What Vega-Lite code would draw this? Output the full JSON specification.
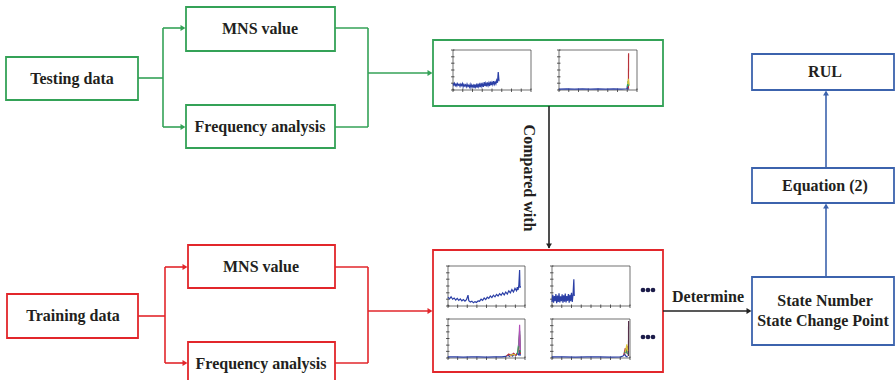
{
  "$schema": "https://vega.github.io/schema/vega-lite/v6.json",
  "width": 896,
  "height": 380,
  "autosize": {"type": "fit", "contains": "padding"},
  "padding": 0,
  "background": "white",
  "config": {"view": {"stroke": null}},
  "datasets": {
    "boxes": [
      {"n": "test", "g": "testing", "x": 6, "x2": 138, "y": 57, "y2": 100},
      {"n": "mnsG", "g": "testing", "x": 186, "x2": 335, "y": 7, "y2": 51},
      {"n": "freqG", "g": "testing", "x": 186, "x2": 335, "y": 105, "y2": 148},
      {"n": "resG", "g": "testing", "x": 433, "x2": 663, "y": 40, "y2": 106},
      {"n": "train", "g": "training", "x": 7, "x2": 138, "y": 294, "y2": 338},
      {"n": "mnsR", "g": "training", "x": 188, "x2": 335, "y": 245, "y2": 288},
      {"n": "freqR", "g": "training", "x": 188, "x2": 335, "y": 342, "y2": 392},
      {"n": "resR", "g": "training", "x": 433, "x2": 663, "y": 250, "y2": 372},
      {"n": "rul", "g": "output", "x": 752, "x2": 894, "y": 54, "y2": 90},
      {"n": "eq", "g": "output", "x": 752, "x2": 894, "y": 168, "y2": 203},
      {"n": "state", "g": "output", "x": 752, "x2": 894, "y": 277, "y2": 345}
    ],
    "links": [
      {"g": "testing", "x": 138, "x2": 163, "y": 78, "y2": 78},
      {"g": "testing", "x": 163, "x2": 163, "y": 28, "y2": 127},
      {"g": "testing", "x": 163, "x2": 184, "y": 28, "y2": 28},
      {"g": "testing", "x": 163, "x2": 184, "y": 127, "y2": 127},
      {"g": "testing", "x": 335, "x2": 368, "y": 28, "y2": 28},
      {"g": "testing", "x": 335, "x2": 368, "y": 127, "y2": 127},
      {"g": "testing", "x": 368, "x2": 368, "y": 28, "y2": 127},
      {"g": "testing", "x": 368, "x2": 431, "y": 73, "y2": 73},
      {"g": "training", "x": 138, "x2": 165, "y": 316, "y2": 316},
      {"g": "training", "x": 165, "x2": 165, "y": 267, "y2": 363},
      {"g": "training", "x": 165, "x2": 186, "y": 267, "y2": 267},
      {"g": "training", "x": 165, "x2": 186, "y": 363, "y2": 363},
      {"g": "training", "x": 335, "x2": 368, "y": 267, "y2": 267},
      {"g": "training", "x": 335, "x2": 368, "y": 363, "y2": 363},
      {"g": "training", "x": 368, "x2": 368, "y": 267, "y2": 363},
      {"g": "training", "x": 368, "x2": 431, "y": 311, "y2": 311},
      {"g": "link", "x": 549, "x2": 549, "y": 106, "y2": 248},
      {"g": "link", "x": 663, "x2": 750, "y": 311, "y2": 311},
      {"g": "output", "x": 826, "x2": 826, "y": 277, "y2": 205},
      {"g": "output", "x": 826, "x2": 826, "y": 168, "y2": 92}
    ],
    "heads": [
      {"g": "testing", "dir": "right", "x": 183, "y": 28},
      {"g": "testing", "dir": "right", "x": 183, "y": 127},
      {"g": "testing", "dir": "right", "x": 430, "y": 73},
      {"g": "training", "dir": "right", "x": 185, "y": 267},
      {"g": "training", "dir": "right", "x": 185, "y": 363},
      {"g": "training", "dir": "right", "x": 430, "y": 311},
      {"g": "link", "dir": "down", "x": 549, "y": 246},
      {"g": "link", "dir": "right", "x": 749, "y": 311},
      {"g": "output", "dir": "up", "x": 826, "y": 206},
      {"g": "output", "dir": "up", "x": 826, "y": 93}
    ],
    "labels": [
      {"t": "Testing data", "x": 72, "y": 79},
      {"t": "MNS value", "x": 260, "y": 29},
      {"t": "Frequency analysis", "x": 260, "y": 127},
      {"t": "Training data", "x": 73, "y": 316},
      {"t": "MNS value", "x": 261, "y": 267},
      {"t": "Frequency analysis", "x": 261, "y": 364},
      {"t": "RUL", "x": 825, "y": 72},
      {"t": "Equation (2)", "x": 825, "y": 186},
      {"t": "State Number", "x": 825, "y": 301},
      {"t": "State Change Point", "x": 823, "y": 321},
      {"t": "Determine", "x": 708, "y": 297}
    ],
    "panels": [
      {"p": "g1", "x0": 453, "x1": 531, "y0": 50, "y1": 90},
      {"p": "g2", "x0": 559, "x1": 637, "y0": 50, "y1": 90},
      {"p": "r1", "x0": 448, "x1": 525, "y0": 266, "y1": 306},
      {"p": "r2", "x0": 552, "x1": 630, "y0": 266, "y1": 306},
      {"p": "r3", "x0": 448, "x1": 525, "y0": 319, "y1": 358},
      {"p": "r4", "x0": 552, "x1": 630, "y0": 319, "y1": 358}
    ],
    "ticks": [
      {"p": "g1", "side": "y", "f": [0, 17, 33, 50, 67, 83, 100]},
      {"p": "g1", "side": "x", "f": [0, 12.5, 25, 37.5, 50, 62.5, 75, 87.5, 100]},
      {"p": "g2", "side": "y", "f": [0, 17, 33, 50, 67, 83, 100]},
      {"p": "g2", "side": "x", "f": [0, 12.5, 25, 37.5, 50, 62.5, 75, 87.5, 100]},
      {"p": "r1", "side": "y", "f": [0, 17, 33, 50, 67, 83, 100]},
      {"p": "r1", "side": "x", "f": [0, 12.5, 25, 37.5, 50, 62.5, 75, 87.5, 100]},
      {"p": "r2", "side": "y", "f": [0, 17, 33, 50, 67, 83, 100]},
      {"p": "r2", "side": "x", "f": [0, 12.5, 25, 37.5, 50, 62.5, 75, 87.5, 100]},
      {"p": "r3", "side": "y", "f": [0, 17, 33, 50, 67, 83, 100]},
      {"p": "r3", "side": "x", "f": [0, 12.5, 25, 37.5, 50, 62.5, 75, 87.5, 100]},
      {"p": "r4", "side": "y", "f": [0, 17, 33, 50, 67, 83, 100]},
      {"p": "r4", "side": "x", "f": [0, 12.5, 25, 37.5, 50, 62.5, 75, 87.5, 100]}
    ],
    "series": [
      {"p": "g1", "id": "g1a", "s": "blue", "t": 0, "v": 16}, {"p": "g1", "id": "g1a", "s": "blue", "t": 1, "v": 12},
      {"p": "g1", "id": "g1a", "s": "blue", "t": 2, "v": 17}, {"p": "g1", "id": "g1a", "s": "blue", "t": 3, "v": 11},
      {"p": "g1", "id": "g1a", "s": "blue", "t": 4, "v": 15}, {"p": "g1", "id": "g1a", "s": "blue", "t": 5, "v": 10},
      {"p": "g1", "id": "g1a", "s": "blue", "t": 6, "v": 16}, {"p": "g1", "id": "g1a", "s": "blue", "t": 7, "v": 12},
      {"p": "g1", "id": "g1a", "s": "blue", "t": 8, "v": 14}, {"p": "g1", "id": "g1a", "s": "blue", "t": 9, "v": 9},
      {"p": "g1", "id": "g1a", "s": "blue", "t": 10, "v": 15}, {"p": "g1", "id": "g1a", "s": "blue", "t": 11, "v": 11},
      {"p": "g1", "id": "g1a", "s": "blue", "t": 12, "v": 16}, {"p": "g1", "id": "g1a", "s": "blue", "t": 13, "v": 8},
      {"p": "g1", "id": "g1a", "s": "blue", "t": 14, "v": 14}, {"p": "g1", "id": "g1a", "s": "blue", "t": 15, "v": 10},
      {"p": "g1", "id": "g1a", "s": "blue", "t": 16, "v": 13}, {"p": "g1", "id": "g1a", "s": "blue", "t": 17, "v": 8},
      {"p": "g1", "id": "g1a", "s": "blue", "t": 18, "v": 15}, {"p": "g1", "id": "g1a", "s": "blue", "t": 19, "v": 9},
      {"p": "g1", "id": "g1a", "s": "blue", "t": 20, "v": 12}, {"p": "g1", "id": "g1a", "s": "blue", "t": 21, "v": 7},
      {"p": "g1", "id": "g1a", "s": "blue", "t": 22, "v": 14}, {"p": "g1", "id": "g1a", "s": "blue", "t": 23, "v": 6},
      {"p": "g1", "id": "g1a", "s": "blue", "t": 24, "v": 13}, {"p": "g1", "id": "g1a", "s": "blue", "t": 25, "v": 8},
      {"p": "g1", "id": "g1a", "s": "blue", "t": 26, "v": 12}, {"p": "g1", "id": "g1a", "s": "blue", "t": 27, "v": 5},
      {"p": "g1", "id": "g1a", "s": "blue", "t": 28, "v": 14}, {"p": "g1", "id": "g1a", "s": "blue", "t": 29, "v": 7},
      {"p": "g1", "id": "g1a", "s": "blue", "t": 30, "v": 13}, {"p": "g1", "id": "g1a", "s": "blue", "t": 31, "v": 6},
      {"p": "g1", "id": "g1a", "s": "blue", "t": 32, "v": 16}, {"p": "g1", "id": "g1a", "s": "blue", "t": 33, "v": 8},
      {"p": "g1", "id": "g1a", "s": "blue", "t": 34, "v": 14}, {"p": "g1", "id": "g1a", "s": "blue", "t": 35, "v": 7},
      {"p": "g1", "id": "g1a", "s": "blue", "t": 36, "v": 18}, {"p": "g1", "id": "g1a", "s": "blue", "t": 37, "v": 9},
      {"p": "g1", "id": "g1a", "s": "blue", "t": 38, "v": 15}, {"p": "g1", "id": "g1a", "s": "blue", "t": 39, "v": 8},
      {"p": "g1", "id": "g1a", "s": "blue", "t": 40, "v": 20}, {"p": "g1", "id": "g1a", "s": "blue", "t": 41, "v": 10},
      {"p": "g1", "id": "g1a", "s": "blue", "t": 42, "v": 17}, {"p": "g1", "id": "g1a", "s": "blue", "t": 43, "v": 9},
      {"p": "g1", "id": "g1a", "s": "blue", "t": 44, "v": 19}, {"p": "g1", "id": "g1a", "s": "blue", "t": 45, "v": 11},
      {"p": "g1", "id": "g1a", "s": "blue", "t": 46, "v": 18}, {"p": "g1", "id": "g1a", "s": "blue", "t": 47, "v": 10},
      {"p": "g1", "id": "g1a", "s": "blue", "t": 48, "v": 21}, {"p": "g1", "id": "g1a", "s": "blue", "t": 49, "v": 12},
      {"p": "g1", "id": "g1a", "s": "blue", "t": 50, "v": 19}, {"p": "g1", "id": "g1a", "s": "blue", "t": 51, "v": 13},
      {"p": "g1", "id": "g1a", "s": "blue", "t": 52, "v": 22}, {"p": "g1", "id": "g1a", "s": "blue", "t": 53, "v": 14},
      {"p": "g1", "id": "g1a", "s": "blue", "t": 54, "v": 20}, {"p": "g1", "id": "g1a", "s": "blue", "t": 55, "v": 15},
      {"p": "g1", "id": "g1a", "s": "blue", "t": 56, "v": 24}, {"p": "g1", "id": "g1a", "s": "blue", "t": 57, "v": 18},
      {"p": "g1", "id": "g1a", "s": "blue", "t": 58, "v": 45}, {"p": "g1", "id": "g1a", "s": "blue", "t": 59, "v": 22},

      {"p": "g2", "id": "g2a", "s": "blue", "t": 0, "v": 2}, {"p": "g2", "id": "g2a", "s": "blue", "t": 10, "v": 3},
      {"p": "g2", "id": "g2a", "s": "blue", "t": 20, "v": 2}, {"p": "g2", "id": "g2a", "s": "blue", "t": 30, "v": 3},
      {"p": "g2", "id": "g2a", "s": "blue", "t": 40, "v": 2}, {"p": "g2", "id": "g2a", "s": "blue", "t": 50, "v": 3},
      {"p": "g2", "id": "g2a", "s": "blue", "t": 60, "v": 2}, {"p": "g2", "id": "g2a", "s": "blue", "t": 70, "v": 3},
      {"p": "g2", "id": "g2a", "s": "blue", "t": 80, "v": 2}, {"p": "g2", "id": "g2a", "s": "blue", "t": 87, "v": 3},
      {"p": "g2", "id": "g2a", "s": "blue", "t": 88, "v": 12}, {"p": "g2", "id": "g2a", "s": "blue", "t": 88.5, "v": 3},
      {"p": "g2", "id": "g2a", "s": "blue", "t": 90, "v": 2},
      {"p": "g2", "id": "g2b", "s": "red", "t": 89, "v": 4}, {"p": "g2", "id": "g2b", "s": "red", "t": 89.2, "v": 92},
      {"p": "g2", "id": "g2c", "s": "green", "t": 87.5, "v": 8}, {"p": "g2", "id": "g2c", "s": "green", "t": 88.5, "v": 22},
      {"p": "g2", "id": "g2c", "s": "green", "t": 89.5, "v": 10},
      {"p": "g2", "id": "g2d", "s": "yellow", "t": 88, "v": 15}, {"p": "g2", "id": "g2d", "s": "yellow", "t": 89, "v": 28},
      {"p": "g2", "id": "g2d", "s": "yellow", "t": 90, "v": 12},

      {"p": "r1", "id": "r1a", "s": "blue", "t": 0, "v": 22}, {"p": "r1", "id": "r1a", "s": "blue", "t": 2, "v": 18},
      {"p": "r1", "id": "r1a", "s": "blue", "t": 4, "v": 23}, {"p": "r1", "id": "r1a", "s": "blue", "t": 6, "v": 17},
      {"p": "r1", "id": "r1a", "s": "blue", "t": 8, "v": 20}, {"p": "r1", "id": "r1a", "s": "blue", "t": 10, "v": 15},
      {"p": "r1", "id": "r1a", "s": "blue", "t": 12, "v": 19}, {"p": "r1", "id": "r1a", "s": "blue", "t": 14, "v": 14},
      {"p": "r1", "id": "r1a", "s": "blue", "t": 16, "v": 18}, {"p": "r1", "id": "r1a", "s": "blue", "t": 18, "v": 13},
      {"p": "r1", "id": "r1a", "s": "blue", "t": 20, "v": 16}, {"p": "r1", "id": "r1a", "s": "blue", "t": 22, "v": 12},
      {"p": "r1", "id": "r1a", "s": "blue", "t": 24, "v": 16}, {"p": "r1", "id": "r1a", "s": "blue", "t": 26, "v": 27},
      {"p": "r1", "id": "r1a", "s": "blue", "t": 27, "v": 13}, {"p": "r1", "id": "r1a", "s": "blue", "t": 29, "v": 10},
      {"p": "r1", "id": "r1a", "s": "blue", "t": 31, "v": 12}, {"p": "r1", "id": "r1a", "s": "blue", "t": 33, "v": 8},
      {"p": "r1", "id": "r1a", "s": "blue", "t": 35, "v": 11}, {"p": "r1", "id": "r1a", "s": "blue", "t": 37, "v": 9},
      {"p": "r1", "id": "r1a", "s": "blue", "t": 39, "v": 13}, {"p": "r1", "id": "r1a", "s": "blue", "t": 41, "v": 12},
      {"p": "r1", "id": "r1a", "s": "blue", "t": 43, "v": 17}, {"p": "r1", "id": "r1a", "s": "blue", "t": 45, "v": 14},
      {"p": "r1", "id": "r1a", "s": "blue", "t": 47, "v": 20}, {"p": "r1", "id": "r1a", "s": "blue", "t": 49, "v": 16},
      {"p": "r1", "id": "r1a", "s": "blue", "t": 51, "v": 22}, {"p": "r1", "id": "r1a", "s": "blue", "t": 53, "v": 19},
      {"p": "r1", "id": "r1a", "s": "blue", "t": 55, "v": 25}, {"p": "r1", "id": "r1a", "s": "blue", "t": 57, "v": 21},
      {"p": "r1", "id": "r1a", "s": "blue", "t": 59, "v": 27}, {"p": "r1", "id": "r1a", "s": "blue", "t": 61, "v": 23},
      {"p": "r1", "id": "r1a", "s": "blue", "t": 63, "v": 29}, {"p": "r1", "id": "r1a", "s": "blue", "t": 65, "v": 25},
      {"p": "r1", "id": "r1a", "s": "blue", "t": 67, "v": 31}, {"p": "r1", "id": "r1a", "s": "blue", "t": 69, "v": 27},
      {"p": "r1", "id": "r1a", "s": "blue", "t": 71, "v": 33}, {"p": "r1", "id": "r1a", "s": "blue", "t": 73, "v": 28},
      {"p": "r1", "id": "r1a", "s": "blue", "t": 75, "v": 35}, {"p": "r1", "id": "r1a", "s": "blue", "t": 77, "v": 30},
      {"p": "r1", "id": "r1a", "s": "blue", "t": 79, "v": 38}, {"p": "r1", "id": "r1a", "s": "blue", "t": 81, "v": 33},
      {"p": "r1", "id": "r1a", "s": "blue", "t": 83, "v": 41}, {"p": "r1", "id": "r1a", "s": "blue", "t": 85, "v": 35},
      {"p": "r1", "id": "r1a", "s": "blue", "t": 87, "v": 44}, {"p": "r1", "id": "r1a", "s": "blue", "t": 89, "v": 38},
      {"p": "r1", "id": "r1a", "s": "blue", "t": 90, "v": 47}, {"p": "r1", "id": "r1a", "s": "blue", "t": 91, "v": 40},
      {"p": "r1", "id": "r1a", "s": "blue", "t": 92, "v": 52}, {"p": "r1", "id": "r1a", "s": "blue", "t": 93, "v": 90},
      {"p": "r1", "id": "r1a", "s": "blue", "t": 93.5, "v": 45}, {"p": "r1", "id": "r1a", "s": "blue", "t": 94, "v": 50},

      {"p": "r2", "id": "r2a", "s": "blue", "t": 0, "v": 10}, {"p": "r2", "id": "r2a", "s": "blue", "t": 1, "v": 28},
      {"p": "r2", "id": "r2a", "s": "blue", "t": 2, "v": 8}, {"p": "r2", "id": "r2a", "s": "blue", "t": 3, "v": 25},
      {"p": "r2", "id": "r2a", "s": "blue", "t": 4, "v": 12}, {"p": "r2", "id": "r2a", "s": "blue", "t": 5, "v": 30},
      {"p": "r2", "id": "r2a", "s": "blue", "t": 6, "v": 7}, {"p": "r2", "id": "r2a", "s": "blue", "t": 7, "v": 26},
      {"p": "r2", "id": "r2a", "s": "blue", "t": 8, "v": 10}, {"p": "r2", "id": "r2a", "s": "blue", "t": 9, "v": 32},
      {"p": "r2", "id": "r2a", "s": "blue", "t": 10, "v": 9}, {"p": "r2", "id": "r2a", "s": "blue", "t": 11, "v": 24},
      {"p": "r2", "id": "r2a", "s": "blue", "t": 12, "v": 12}, {"p": "r2", "id": "r2a", "s": "blue", "t": 13, "v": 29},
      {"p": "r2", "id": "r2a", "s": "blue", "t": 14, "v": 8}, {"p": "r2", "id": "r2a", "s": "blue", "t": 15, "v": 27},
      {"p": "r2", "id": "r2a", "s": "blue", "t": 16, "v": 11}, {"p": "r2", "id": "r2a", "s": "blue", "t": 17, "v": 31},
      {"p": "r2", "id": "r2a", "s": "blue", "t": 18, "v": 9}, {"p": "r2", "id": "r2a", "s": "blue", "t": 19, "v": 25},
      {"p": "r2", "id": "r2a", "s": "blue", "t": 20, "v": 13}, {"p": "r2", "id": "r2a", "s": "blue", "t": 21, "v": 30},
      {"p": "r2", "id": "r2a", "s": "blue", "t": 22, "v": 8}, {"p": "r2", "id": "r2a", "s": "blue", "t": 23, "v": 28},
      {"p": "r2", "id": "r2a", "s": "blue", "t": 24, "v": 12}, {"p": "r2", "id": "r2a", "s": "blue", "t": 25, "v": 33},
      {"p": "r2", "id": "r2a", "s": "blue", "t": 26, "v": 10}, {"p": "r2", "id": "r2a", "s": "blue", "t": 27, "v": 30},
      {"p": "r2", "id": "r2a", "s": "blue", "t": 28, "v": 67}, {"p": "r2", "id": "r2a", "s": "blue", "t": 28.5, "v": 25},

      {"p": "r3", "id": "r3a", "s": "blue", "t": 0, "v": 3}, {"p": "r3", "id": "r3a", "s": "blue", "t": 10, "v": 3},
      {"p": "r3", "id": "r3a", "s": "blue", "t": 20, "v": 2}, {"p": "r3", "id": "r3a", "s": "blue", "t": 30, "v": 3},
      {"p": "r3", "id": "r3a", "s": "blue", "t": 40, "v": 3}, {"p": "r3", "id": "r3a", "s": "blue", "t": 50, "v": 2},
      {"p": "r3", "id": "r3a", "s": "blue", "t": 60, "v": 3}, {"p": "r3", "id": "r3a", "s": "blue", "t": 70, "v": 3},
      {"p": "r3", "id": "r3a", "s": "blue", "t": 75, "v": 4}, {"p": "r3", "id": "r3a", "s": "blue", "t": 78, "v": 7},
      {"p": "r3", "id": "r3a", "s": "blue", "t": 80, "v": 4}, {"p": "r3", "id": "r3a", "s": "blue", "t": 82, "v": 9},
      {"p": "r3", "id": "r3a", "s": "blue", "t": 84, "v": 5}, {"p": "r3", "id": "r3a", "s": "blue", "t": 86, "v": 10},
      {"p": "r3", "id": "r3a", "s": "blue", "t": 88, "v": 6}, {"p": "r3", "id": "r3a", "s": "blue", "t": 90, "v": 12},
      {"p": "r3", "id": "r3a", "s": "blue", "t": 92, "v": 8}, {"p": "r3", "id": "r3a", "s": "blue", "t": 93, "v": 20},
      {"p": "r3", "id": "r3a", "s": "blue", "t": 94, "v": 6},
      {"p": "r3", "id": "r3b", "s": "red", "t": 76, "v": 5}, {"p": "r3", "id": "r3b", "s": "red", "t": 79, "v": 10},
      {"p": "r3", "id": "r3b", "s": "red", "t": 82, "v": 6}, {"p": "r3", "id": "r3b", "s": "red", "t": 85, "v": 12},
      {"p": "r3", "id": "r3b", "s": "red", "t": 88, "v": 7}, {"p": "r3", "id": "r3b", "s": "red", "t": 91, "v": 15},
      {"p": "r3", "id": "r3b", "s": "red", "t": 93, "v": 60}, {"p": "r3", "id": "r3b", "s": "red", "t": 94, "v": 10},
      {"p": "r3", "id": "r3c", "s": "green", "t": 90, "v": 10}, {"p": "r3", "id": "r3c", "s": "green", "t": 92, "v": 40},
      {"p": "r3", "id": "r3c", "s": "green", "t": 93, "v": 70}, {"p": "r3", "id": "r3c", "s": "green", "t": 94, "v": 15},
      {"p": "r3", "id": "r3d", "s": "magenta", "t": 92, "v": 30}, {"p": "r3", "id": "r3d", "s": "magenta", "t": 93, "v": 85},
      {"p": "r3", "id": "r3d", "s": "magenta", "t": 94, "v": 20},
      {"p": "r3", "id": "r3e", "s": "yellow", "t": 80, "v": 6}, {"p": "r3", "id": "r3e", "s": "yellow", "t": 84, "v": 9},
      {"p": "r3", "id": "r3e", "s": "yellow", "t": 88, "v": 8},

      {"p": "r4", "id": "r4a", "s": "blue", "t": 0, "v": 3}, {"p": "r4", "id": "r4a", "s": "blue", "t": 15, "v": 3},
      {"p": "r4", "id": "r4a", "s": "blue", "t": 30, "v": 2}, {"p": "r4", "id": "r4a", "s": "blue", "t": 45, "v": 3},
      {"p": "r4", "id": "r4a", "s": "blue", "t": 60, "v": 3}, {"p": "r4", "id": "r4a", "s": "blue", "t": 75, "v": 2},
      {"p": "r4", "id": "r4a", "s": "blue", "t": 88, "v": 3}, {"p": "r4", "id": "r4a", "s": "blue", "t": 91, "v": 5},
      {"p": "r4", "id": "r4a", "s": "blue", "t": 93, "v": 10}, {"p": "r4", "id": "r4a", "s": "blue", "t": 95, "v": 4},
      {"p": "r4", "id": "r4a", "s": "blue", "t": 97, "v": 3},
      {"p": "r4", "id": "r4b", "s": "red", "t": 92, "v": 8}, {"p": "r4", "id": "r4b", "s": "red", "t": 94, "v": 25},
      {"p": "r4", "id": "r4b", "s": "red", "t": 95, "v": 12}, {"p": "r4", "id": "r4b", "s": "red", "t": 97, "v": 30},
      {"p": "r4", "id": "r4b", "s": "red", "t": 98, "v": 6},
      {"p": "r4", "id": "r4c", "s": "dark", "t": 98, "v": 5}, {"p": "r4", "id": "r4c", "s": "dark", "t": 98.2, "v": 95},
      {"p": "r4", "id": "r4d", "s": "green", "t": 93, "v": 12}, {"p": "r4", "id": "r4d", "s": "green", "t": 95, "v": 20},
      {"p": "r4", "id": "r4d", "s": "green", "t": 97, "v": 10},
      {"p": "r4", "id": "r4e", "s": "yellow", "t": 94, "v": 15}, {"p": "r4", "id": "r4e", "s": "yellow", "t": 96, "v": 35},
      {"p": "r4", "id": "r4e", "s": "yellow", "t": 97, "v": 18}
    ],
    "more": [
      {"x": 643, "y": 290}, {"x": 648, "y": 290}, {"x": 653, "y": 290},
      {"x": 643, "y": 337}, {"x": 648, "y": 337}, {"x": 653, "y": 337}
    ]
  },
  "encoding": {
    "x": {"field": "x", "type": "quantitative", "axis": null, "scale": {"domain": [0, 896], "nice": false, "zero": false}},
    "y": {"field": "y", "type": "quantitative", "axis": null, "scale": {"domain": [0, 380], "nice": false, "zero": false, "reverse": true}}
  },
  "layer": [
    {
      "data": {"name": "boxes"},
      "mark": {"type": "rect", "fill": "white", "strokeWidth": 1.8, "clip": true},
      "encoding": {
        "x2": {"field": "x2"},
        "y2": {"field": "y2"},
        "stroke": {"field": "g", "type": "nominal", "legend": null,
          "scale": {"domain": ["testing", "training", "output", "link"], "range": ["#34a257", "#e2262b", "#3c63ad", "#222222"]}}
      }
    },
    {
      "data": {"name": "links"},
      "mark": {"type": "rule", "strokeWidth": 1.6},
      "encoding": {
        "x2": {"field": "x2"},
        "y2": {"field": "y2"},
        "stroke": {"field": "g", "type": "nominal", "legend": null,
          "scale": {"domain": ["testing", "training", "output", "link"], "range": ["#34a257", "#e2262b", "#3c63ad", "#222222"]}}
      }
    },
    {
      "data": {"name": "heads"},
      "mark": {"type": "point", "filled": true, "size": 34, "opacity": 1, "strokeWidth": 0},
      "encoding": {
        "shape": {"field": "dir", "type": "nominal", "legend": null,
          "scale": {"domain": ["right", "down", "up"], "range": ["triangle-right", "triangle-down", "triangle-up"]}},
        "fill": {"field": "g", "type": "nominal", "legend": null,
          "scale": {"domain": ["testing", "training", "output", "link"], "range": ["#34a257", "#e2262b", "#3c63ad", "#222222"]}}
      }
    },
    {
      "data": {"name": "panels"},
      "mark": {"type": "rect", "fill": "white", "stroke": "#333333", "strokeWidth": 0.7},
      "encoding": {
        "x": {"field": "x0", "type": "quantitative"},
        "x2": {"field": "x1"},
        "y": {"field": "y0", "type": "quantitative"},
        "y2": {"field": "y1"}
      }
    },
    {
      "data": {"name": "ticks"},
      "transform": [
        {"flatten": ["f"]},
        {"lookup": "p", "from": {"data": {"name": "panels"}, "key": "p", "fields": ["x0", "x1", "y0", "y1"]}},
        {"calculate": "datum.side === 'y' ? datum.x0 - 2 : datum.x0 + datum.f / 100 * (datum.x1 - datum.x0)", "as": "x"},
        {"calculate": "datum.side === 'y' ? datum.x0 + 1.5 : datum.x", "as": "xe"},
        {"calculate": "datum.side === 'y' ? datum.y1 - datum.f / 100 * (datum.y1 - datum.y0) : datum.y1 + 2", "as": "y"},
        {"calculate": "datum.side === 'y' ? datum.y : datum.y1 - 1.5", "as": "ye"}
      ],
      "mark": {"type": "rule", "stroke": "#333333", "strokeWidth": 0.8},
      "encoding": {"x2": {"field": "xe"}, "y2": {"field": "ye"}}
    },
    {
      "data": {"name": "series"},
      "transform": [
        {"lookup": "p", "from": {"data": {"name": "panels"}, "key": "p", "fields": ["x0", "x1", "y0", "y1"]}},
        {"calculate": "datum.x0 + datum.t / 100 * (datum.x1 - datum.x0)", "as": "x"},
        {"calculate": "datum.y1 - datum.v / 100 * (datum.y1 - datum.y0)", "as": "y"}
      ],
      "mark": {"type": "line", "strokeWidth": 1.2, "interpolate": "linear"},
      "encoding": {
        "detail": {"field": "id", "type": "nominal"},
        "order": {"field": "t", "type": "quantitative"},
        "stroke": {"field": "s", "type": "nominal", "legend": null,
          "scale": {"domain": ["blue", "red", "green", "yellow", "magenta", "dark"], "range": ["#2b3fa6", "#b8323a", "#2fa36b", "#d8c43a", "#b24fb8", "#55304a"]}}
      }
    },
    {
      "data": {"name": "more"},
      "mark": {"type": "circle", "size": 22, "color": "#1c1c4a", "opacity": 1}
    },
    {
      "data": {"name": "labels"},
      "mark": {"type": "text", "font": "Liberation Serif", "fontWeight": "bold", "fontSize": 16, "color": "#231f20", "align": "center", "baseline": "middle"},
      "encoding": {"text": {"field": "t", "type": "nominal"}}
    },
    {
      "data": {"values": [{"t": "Compared with", "x": 529, "y": 178}]},
      "mark": {"type": "text", "font": "Liberation Serif", "fontWeight": "bold", "fontSize": 16, "color": "#231f20", "align": "center", "baseline": "middle", "angle": 90},
      "encoding": {"text": {"field": "t", "type": "nominal"}}
    }
  ],
  "resolve": {"scale": {"stroke": "independent", "fill": "independent"}}
}
